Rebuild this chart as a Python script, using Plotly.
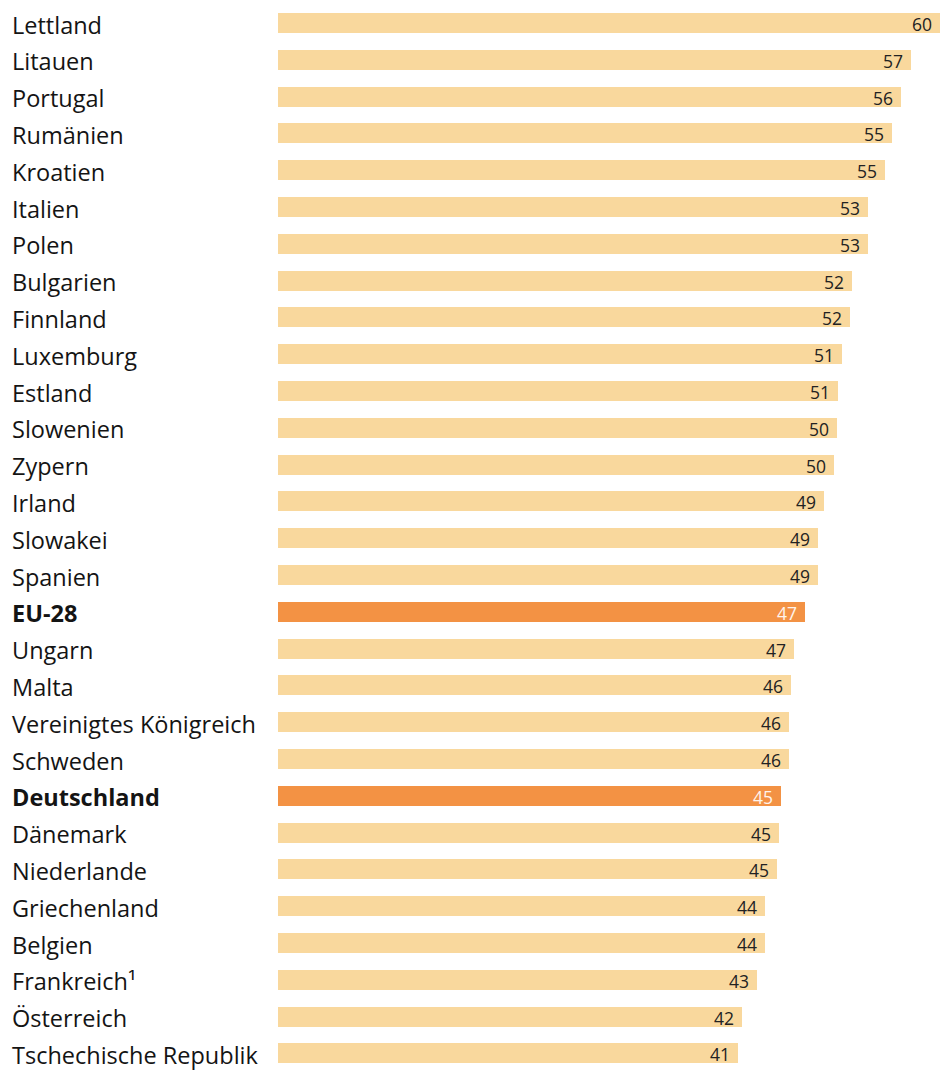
import plotly.graph_objects as go

countries = ["Lettland", "Litauen", "Portugal", "Rumänien", "Kroatien", "Italien", "Polen",
             "Bulgarien", "Finnland", "Luxemburg", "Estland", "Slowenien", "Zypern", "Irland",
             "Slowakei", "Spanien", "EU-28", "Ungarn", "Malta", "Vereinigtes Königreich",
             "Schweden", "Deutschland", "Dänemark", "Niederlande", "Griechenland", "Belgien",
             "Frankreich¹", "Österreich", "Tschechische Republik"]
values = [59.7, 57.1, 56.2, 55.4, 54.7, 53.2, 53.2, 51.8, 51.6, 50.9, 50.5, 50.4, 50.1, 49.2,
          48.7, 48.7, 47.5, 46.5, 46.3, 46.1, 46.1, 45.4, 45.2, 45.0, 43.9, 43.9, 43.2, 41.8, 41.5]
labels = [60, 57, 56, 55, 55, 53, 53, 52, 52, 51, 51, 50, 50, 49,
          49, 49, 47, 47, 46, 46, 46, 45, 45, 45, 44, 44, 43, 42, 41]
highlight = ["EU-28", "Deutschland"]

W, H = 941, 1070
BAR_X0 = 278          # pixel where value 0 lies
PX_PER_UNIT = 11.1
ROW = 36.8
FIRST_ROW_CENTER = 23

LIGHT = "#F9D89D"
DARK = "#F39244"

n = len(countries)
idx = list(range(n))
colors = [DARK if c in highlight else LIGHT for c in countries]

fig = go.Figure(go.Bar(
    x=values, y=idx, orientation="h",
    marker=dict(color=colors, line=dict(width=0)),
    width=20 / ROW,
    hoverinfo="skip",
))

x_min = -BAR_X0 / PX_PER_UNIT
x_max = (W - BAR_X0) / PX_PER_UNIT + 0.05
y_top = -FIRST_ROW_CENTER / ROW
y_bot = y_top + H / ROW

annotations = []
for i, (c, v, lab) in enumerate(zip(countries, values, labels)):
    hi = c in highlight
    annotations.append(dict(
        x=11 / W, xref="paper", y=i, yref="y", xanchor="left", yanchor="middle",
        text=f"<b>{c}</b>" if hi else c, showarrow=False, yshift=-1.5,
        borderpad=0,
        font=dict(family="Open Sans", size=23.5, color="#141414"),
    ))
    annotations.append(dict(
        x=v, xref="x", y=i, yref="y", xanchor="right", yanchor="middle",
        text=str(lab), showarrow=False, xshift=-6, yshift=-1,
        font=dict(family="Open Sans", size=17.5, color="#FFF4EC" if hi else "#222222"),
    ))

fig.update_layout(
    width=W, height=H,
    margin=dict(l=0, r=0, t=0, b=0),
    paper_bgcolor="white", plot_bgcolor="white",
    showlegend=False,
    xaxis=dict(range=[x_min, x_max], visible=False, fixedrange=True),
    yaxis=dict(range=[y_bot, y_top], visible=False, fixedrange=True),
    annotations=annotations,
    bargap=0,
)

fig.write_html("out.html")
